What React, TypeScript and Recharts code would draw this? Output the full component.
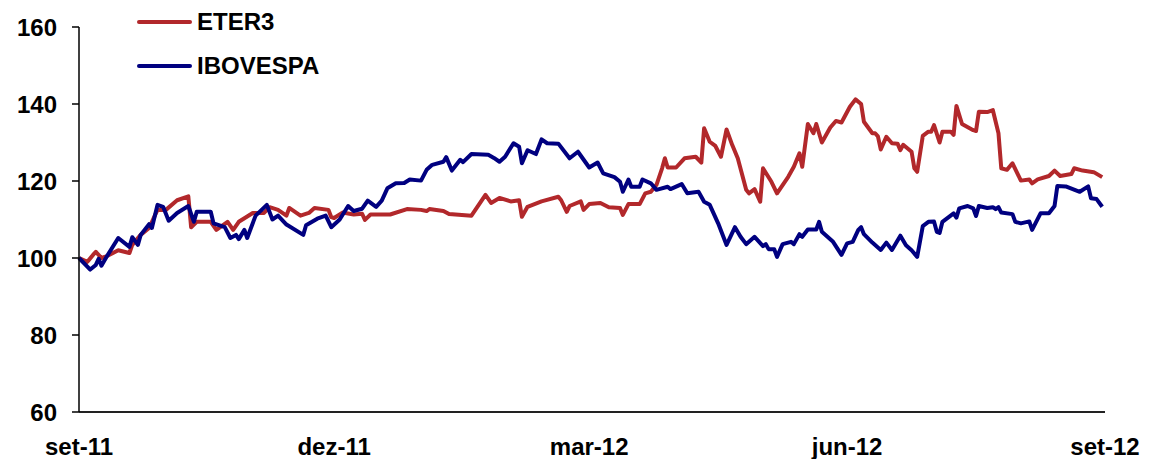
import React from 'react';
import { LineChart, Line, XAxis, YAxis, Legend } from 'recharts';

// day offsets from 1 Sep 2011, index values (base 100)
const eterDays = [0, 3, 5, 6, 8, 10, 14, 18, 19, 22, 25, 28, 31, 35, 39, 40, 42, 47, 49, 53, 55, 57, 62, 66, 68, 71, 74, 75, 79, 82, 84, 89, 90, 91, 94, 98, 101, 102, 104, 111, 117, 122, 124, 125, 130, 132, 140, 145, 147, 150, 154, 157, 158, 160, 165, 171, 172, 174, 175, 179, 180, 182, 186, 189, 193, 194, 196, 200, 202, 204, 206, 208, 209, 210, 213, 216, 220, 222, 223, 225, 227, 229, 231, 233, 235, 238, 239, 241, 243, 244, 247, 249, 253, 255, 257, 258, 260, 262, 263, 265, 268, 270, 272, 275, 277, 279, 280, 283, 284, 285, 286, 288, 290, 292, 293, 294, 297, 298, 299, 301, 303, 304, 305, 307, 308, 311, 312, 313, 315, 319, 320, 321, 324, 326, 328, 329, 331, 333, 336, 339, 340, 342, 346, 348, 350, 354, 355, 358, 362, 365];
const eterValues = [100, 99, 100.8, 101.6, 100, 100.5, 102, 101.3, 103.4, 106, 107.8, 112.5, 112.5, 115, 116, 108, 109.4, 109.4, 107.3, 109.4, 107.3, 109.4, 111.7, 111.7, 113.2, 112.5, 111, 113, 111, 111.7, 113, 112.5, 110.6, 110.4, 111.8, 111.3, 111.5, 109.9, 111.3, 111.3, 112.7, 112.5, 112.2, 112.7, 112.2, 111.4, 111, 116.4, 114.3, 115.6, 114.7, 115, 110.7, 113.3, 114.7, 115.9, 115, 112, 113.5, 114.7, 112.5, 114, 114.3, 113.2, 113, 111.2, 114, 114, 116.8, 117.2, 119, 123.3, 125.9, 123.5, 123.5, 125.9, 126.3, 124.8, 133.7, 130.2, 129.1, 126.3, 133.4, 129.4, 125.9, 117.7, 116.8, 117.9, 114.6, 123.3, 119.8, 116.8, 121.1, 123.7, 127.2, 123.7, 134.8, 132.4, 134.8, 130, 133.9, 135.6, 135.2, 139.3, 141.2, 140, 135.4, 132.4, 132.4, 131.6, 128.2, 131.5, 129.8, 129.7, 128, 129.4, 127.6, 123.3, 122.4, 131.7, 132.8, 132.8, 134.5, 130, 132.8, 132.8, 132, 139.5, 134.8, 133.2, 133, 138, 137.9, 138.4, 132.4, 123.3, 122.9, 124.6, 120.1, 120.4, 119.4, 120.4, 121.3, 122.7, 121.3, 121.8, 123.3, 122.7, 122.3, 121];

const ibovDays = [0, 4, 6, 7, 8, 10, 14, 18, 19, 21, 22, 25, 26, 28, 30, 32, 35, 39, 41, 42, 47, 48, 52, 54, 56, 57, 59, 60, 63, 67, 69, 71, 74, 80, 81, 85, 88, 90, 93, 96, 98, 101, 103, 106, 108, 110, 113, 116, 118, 122, 124, 126, 130, 131, 133, 136, 137, 140, 146, 148, 150, 152, 155, 157, 158, 160, 163, 165, 167, 171, 175, 178, 182, 185, 187, 191, 193, 194, 196, 197, 200, 201, 204, 206, 210, 211, 215, 217, 221, 223, 225, 228, 231, 234, 236, 238, 241, 244, 245, 246, 248, 249, 251, 254, 255, 257, 258, 260, 263, 264, 265, 269, 272, 274, 276, 278, 279, 280, 283, 286, 288, 290, 293, 295, 297, 299, 301, 303, 305, 306, 307, 308, 312, 313, 314, 317, 319, 320, 321, 324, 326, 327, 328, 329, 333, 334, 336, 339, 340, 343, 346, 348, 349, 352, 357, 360, 361, 363, 365];
const ibovValues = [100, 97, 98.2, 99.8, 98, 100.5, 105.2, 102.9, 105.4, 103.4, 106, 108.8, 107.8, 113.8, 113.3, 109.7, 111.7, 113.5, 109.4, 112, 112, 109, 108, 105.2, 106, 104.9, 107.3, 105.2, 111, 113.8, 110, 111, 108.7, 106, 108.5, 110.2, 111, 108, 110, 113.5, 112.2, 112.8, 114.9, 113.3, 114.9, 118.1, 119.4, 119.5, 120.4, 120.1, 122.9, 124.2, 125, 126.2, 122.7, 125.5, 124.9, 127, 126.8, 126, 125, 126.3, 129.8, 128.9, 124.6, 128, 127, 130.8, 129.8, 129.7, 125.9, 127.6, 123.5, 124.8, 122, 121, 119.8, 117.2, 120.4, 118.5, 118.5, 120.4, 119.4, 117.7, 118.5, 117.9, 119.2, 116.8, 117.2, 114.6, 113.8, 109, 103.4, 108, 105.5, 103.6, 105.5, 103.1, 103.6, 102.3, 102.3, 100.3, 103.6, 104.2, 103.6, 106.2, 105.5, 107.4, 107.4, 109.4, 106.8, 104.2, 100.8, 103.8, 104.2, 107.3, 108, 106.2, 104, 102.1, 104, 102.1, 105.8, 103.3, 102, 100.3, 108.3, 109.4, 109.5, 106.8, 106.5, 109.4, 111.6, 110.5, 112.9, 113.5, 112.9, 110.9, 113.5, 113, 113.2, 112.7, 113.2, 111.8, 111.4, 109.4, 109, 109.5, 107.3, 111.6, 111.6, 113.5, 118.7, 118.6, 117.2, 118.6, 115.5, 115.3, 113.3];

const tickDays = [0, 91, 182, 274, 366];
const tickLabels = ['set-11', 'dez-11', 'mar-12', 'jun-12', 'set-12'];
const yTicks = [60, 80, 100, 120, 140, 160];

const eterData = eterDays.map((d, i) => ({ day: d, value: eterValues[i] }));
const ibovData = ibovDays.map((d, i) => ({ day: d, value: ibovValues[i] }));

const RED = '#B2282B';
const BLUE = '#000080';
const FONT = '"Liberation Sans", Arial, sans-serif';

const renderLegend = (props: any) => {
  const { payload } = props;
  return (
    <div style={{ fontFamily: FONT }}>
      {payload.map((entry: any) => (
        <div key={entry.value} style={{ display: 'flex', alignItems: 'center', height: 44 }}>
          <div style={{ width: 55, height: 4, borderRadius: 2, background: entry.color, marginRight: 5 }} />
          <span style={{ fontSize: 24, fontWeight: 'bold', color: '#000' }}>{entry.value}</span>
        </div>
      ))}
    </div>
  );
};

const App: React.FC = () => {
  return (
    <div style={{ position: 'absolute', left: 0, top: 0, width: 1153, height: 459, background: '#fff' }}>
      <LineChart width={1153} height={459} margin={{ top: 27, right: 48, bottom: 10, left: 0 }}>
        <XAxis
          type="number"
          dataKey="day"
          domain={[0, 366]}
          ticks={tickDays}
          tickFormatter={(v: number) => tickLabels[tickDays.indexOf(v)] ?? ''}
          tickLine={false}
          tickSize={0}
          tickMargin={26}
          height={37}
          axisLine={{ stroke: '#222', strokeWidth: 2 }}
          tick={{ fill: '#000', fontSize: 24, fontWeight: 'bold', fontFamily: FONT }}
          interval={0}
          allowDuplicatedCategory={false}
        />
        <YAxis
          domain={[60, 160]}
          ticks={yTicks}
          width={79}
          tickSize={7}
          tickMargin={15}
          axisLine={{ stroke: '#000', strokeWidth: 1.5 }}
          tickLine={{ stroke: '#000', strokeWidth: 1.5 }}
          tick={{ fill: '#000', fontSize: 24, fontWeight: 'bold', fontFamily: FONT }}
          interval={0}
        />
        <Legend
          layout="vertical"
          align="center"
          verticalAlign="middle"
          content={renderLegend}
          wrapperStyle={{ top: 0, left: 137, width: 240, height: 90 }}
        />
        <Line
          data={eterData}
          dataKey="value"
          name="ETER3"
          stroke={RED}
          strokeWidth={4}
          dot={false}
          strokeLinejoin="round"
          isAnimationActive={false}
        />
        <Line
          data={ibovData}
          dataKey="value"
          name="IBOVESPA"
          stroke={BLUE}
          strokeWidth={4}
          dot={false}
          strokeLinejoin="round"
          isAnimationActive={false}
        />
      </LineChart>
    </div>
  );
};

export default App;
